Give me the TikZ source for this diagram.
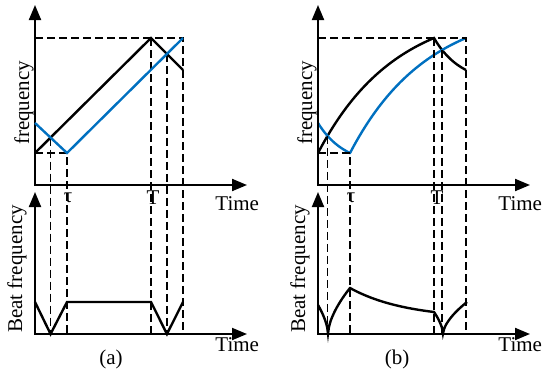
\documentclass[tikz,border=0pt]{standalone}
\usepackage{fontspec}
\setmainfont{Liberation Serif}
\usepackage{tikz}
\usetikzlibrary{arrows.meta,intersections}
\definecolor{sweepblue}{RGB}{0,112,192}

\begin{document}
\begin{tikzpicture}[x=0.5pt,y=-0.5pt,>={Triangle[length=7.5pt,width=6pt]},
  axis/.style={line width=1pt,<->},
  sweep/.style={line width=1.2pt,line join=miter},
  guide/.style={line width=0.9pt,dash pattern=on 4pt off 2pt},
  lbl/.style={font=\fontsize{10.5}{12}\selectfont,inner sep=0pt}]
\useasboundingbox (0,0) rectangle (550,376);
% (a) linear sweep
\begin{scope}
  \coordinate (o1) at (35,185);
  \coordinate (o2) at (35,334);
  \coordinate (b0) at (35,153);
  \coordinate (u0) at (35,123);
  \coordinate (tau) at (67,153);
  \coordinate (tp) at (151,38);
  \coordinate (te) at (183,38);
  \coordinate (bend) at (183,70);
  \coordinate (x1) at (intersection of b0--tp and u0--tau);
  \coordinate (x2) at (intersection of tp--bend and tau--te);
  \draw[guide] (35,38) -- (te) -- (te |- o2);
  \draw[guide] (b0) -- (tau) -- (tau |- o2);
  \draw[guide] (tp) -- (tp |- o2);
  \draw[guide] (x1) -- (x1 |- o2);
  \draw[guide] (x2) -- (x2 |- o2);
  \draw[axis] (35,5) -- (o1) -- (247,185);
  \draw[axis] (35,192) -- (o2) -- (247,334);
  \draw[sweep] (b0) -- (tp) -- (bend);
  \draw[sweep,sweepblue] (u0) -- (tau) -- (te);
  \draw[sweep] (35,302) -- (x1 |- o2) -- (tau |- 0,302) -- (tp |- 0,302)
    -- (x2 |- o2) -- (te |- 0,302);
  \node[lbl] (taua) at (68,198) {τ};
  \node[lbl] (Ta) at (153,198) {T};
  \node[lbl,anchor=west] (ta1) at (215,204) {Time};
  \node[lbl,anchor=west] (ta2) at (215,345) {Time};
  \node[lbl,rotate=90] (fa) at (24,103) {frequency};
  \node[lbl,rotate=90] (ba) at (17,269) {Beat frequency};
  \node[lbl] (capa) at (111,359) {(a)};
\end{scope}
% (b) curved sweep
\begin{scope}[xshift=141.5pt]
  \coordinate (o1) at (35,185);
  \coordinate (o2) at (35,334);
  \coordinate (tau) at (67,153);
  \coordinate (tp) at (151,38);
  \coordinate (te) at (183,38);
  \draw[sweep,name path=blk]
    plot[domain=0:1,samples=50] ({35+116*\x},{153-115*(1-exp(-1.5*\x))/(1-exp(-1.5))})
    -- plot[domain=0:1,samples=20] ({151+32*\x},{38+32*(1-exp(-1.2*\x))/(1-exp(-1.2))});
  \draw[sweep,sweepblue,name path=blu]
    plot[domain=0:1,samples=20] ({35+32*\x},{123+30*(1-exp(-1.2*\x))/(1-exp(-1.2))})
    -- plot[domain=0:1,samples=50] ({67+116*\x},{153-115*(1-exp(-1.5*\x))/(1-exp(-1.5))});
  \path[name intersections={of=blk and blu,sort by=blk,name=c}];
  \draw[guide] (35,38) -- (te) -- (te |- o2);
  \draw[guide] (35,153) -- (tau) -- (tau |- o2);
  \draw[guide] (tp) -- (tp |- o2);
  \draw[guide] (c-1) -- (c-1 |- o2);
  \draw[guide] (c-2) -- (c-2 |- o2);
  \draw[axis] (35,5) -- (o1) -- (247,185);
  \draw[axis] (35,192) -- (o2) -- (247,334);
  \draw[sweep]
    plot[domain=0:0.999,samples=15] ({35+10*\x},{334-29*(1-\x)^0.6})
    -- plot[domain=0.001:1,samples=25] ({45+22*\x},{334-46*\x^0.6})
    -- plot[domain=0:1,samples=40] ({67+84*\x},{312-24*(exp(-1.5*\x)-exp(-1.5))/(1-exp(-1.5))})
    -- plot[domain=0:0.999,samples=15] ({151+9*\x},{334-22*(1-\x)^0.6})
    -- plot[domain=0.001:1,samples=25] ({160+24*\x},{334-32*\x^0.6});
  \node[lbl] (taub) at (68,198) {τ};
  \node[lbl] (Tb) at (154,198) {T};
  \node[lbl,anchor=west] (tb1) at (215,204) {Time};
  \node[lbl,anchor=west] (tb2) at (215,345) {Time};
  \node[lbl,rotate=90] (fb) at (24,103) {frequency};
  \node[lbl,rotate=90] (bb) at (17,269) {Beat frequency};
  \node[lbl] (capb) at (114,359) {(b)};
\end{scope}
\end{tikzpicture}
\end{document}
